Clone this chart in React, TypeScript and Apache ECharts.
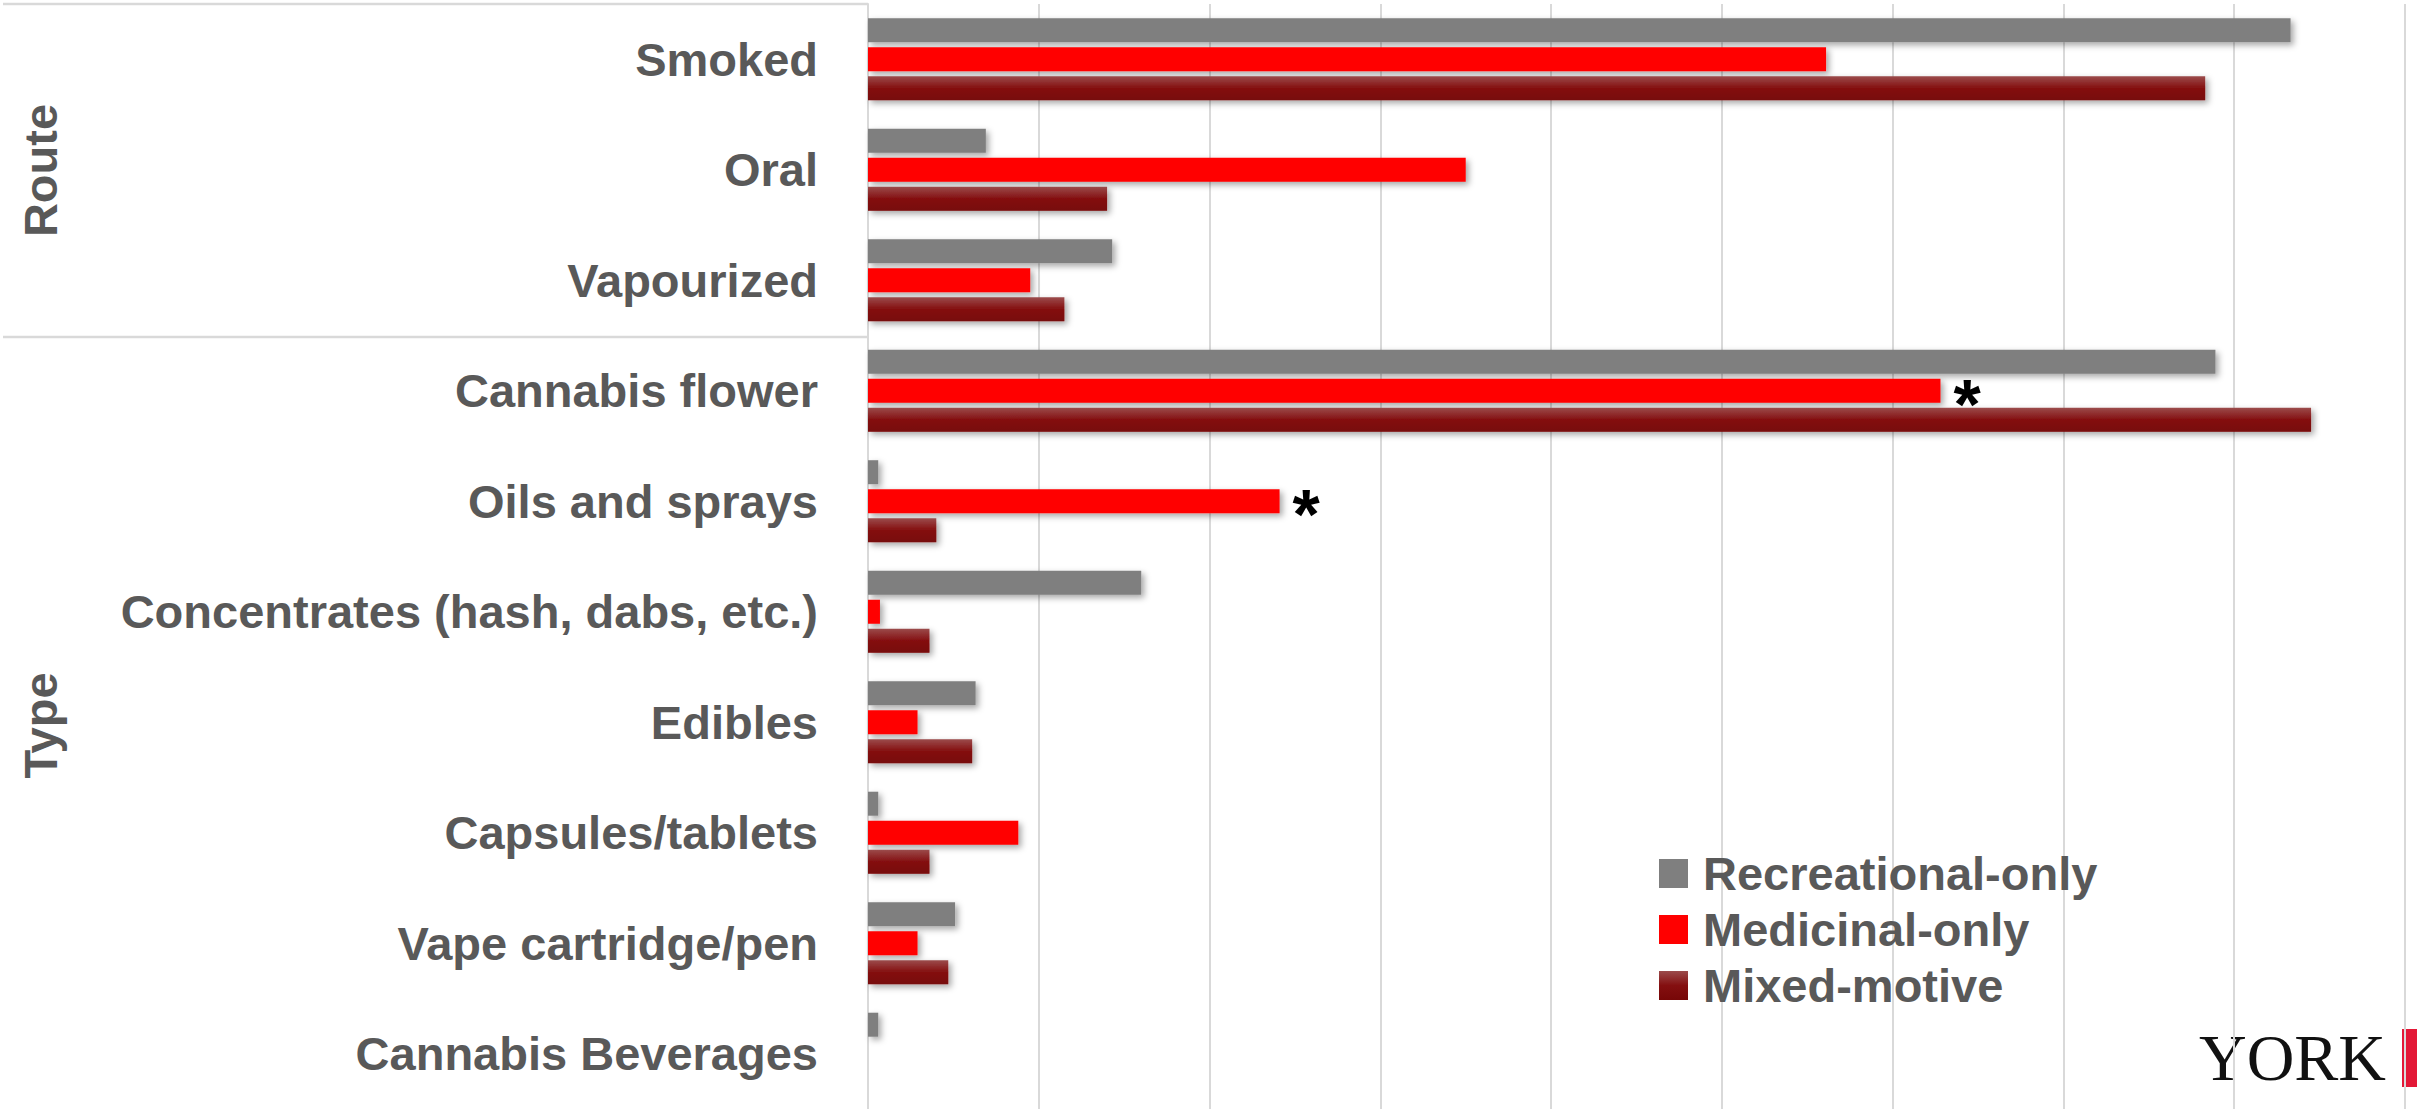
import React, { useEffect, useRef } from 'react';
import * as echarts from 'echarts';

// Cannabis use by route and product type, share of each user group (%)
const categories = [
  'Smoked',
  'Oral',
  'Vapourized',
  'Cannabis flower',
  'Oils and sprays',
  'Concentrates (hash, dabs, etc.)',
  'Edibles',
  'Capsules/tablets',
  'Vape cartridge/pen',
  'Cannabis Beverages',
];

const recreationalOnly = [83.3, 6.9, 14.3, 78.9, 0.6, 16.0, 6.3, 0.6, 5.1, 0.6];
const medicinalOnly = [56.1, 35.0, 9.5, 62.8, 24.1, 0.7, 2.9, 8.8, 2.9, 0];
const mixedMotive = [78.3, 14.0, 11.5, 84.5, 4.0, 3.6, 6.1, 3.6, 4.7, 0];

const seriesNames = ['Recreational-only', 'Medicinal-only', 'Mixed-motive'];

// Medicinal-only values flagged with an asterisk
const starredMedicinal = ['Cannabis flower', 'Oils and sprays'];

// Row groups drawn to the left of the category labels
const rowGroups = [
  { name: 'Route', from: 0, to: 3 },
  { name: 'Type', from: 3, to: 10 },
];

const W = 2417;
const H = 1109;
const GRID = { left: 868, top: 4, width: 1537, height: 1110 };
const BAND = GRID.height / categories.length;

const TEXT_GREY = '#595959';
const LINE_GREY = '#D9D9D9';
const FONT = '"Liberation Sans", Arial, sans-serif';

const barShadow = {
  shadowBlur: 6,
  shadowColor: 'rgba(0,0,0,0.35)',
  shadowOffsetX: 3,
  shadowOffsetY: 3,
};

export default function App() {
  const ref = useRef<HTMLDivElement>(null);

  useEffect(() => {
    if (!ref.current) return;
    const chart = echarts.init(ref.current, undefined, { renderer: 'svg' });

    const mixedGradient = new echarts.graphic.LinearGradient(0, 0, 0, 1, [
      { offset: 0, color: '#9B4B4B' },
      { offset: 0.5, color: '#840F10' },
      { offset: 1, color: '#770707' },
    ]);

    const groupGraphics: any[] = [];
    rowGroups.forEach((g) => {
      const yTop = GRID.top + g.from * BAND;
      const yBottom = GRID.top + g.to * BAND;
      groupGraphics.push({
        type: 'line',
        shape: { x1: 3, y1: yTop, x2: GRID.left, y2: yTop },
        style: { stroke: LINE_GREY, lineWidth: 2.5 },
        silent: true,
      });
      groupGraphics.push({
        type: 'text',
        x: 40,
        y: (yTop + Math.min(yBottom, H + 5)) / 2,
        rotation: Math.PI / 2,
        style: {
          text: g.name,
          align: 'center',
          verticalAlign: 'middle',
          fontSize: 47,
          fontWeight: 'bold',
          fontFamily: FONT,
          fill: TEXT_GREY,
        },
        silent: true,
      });
    });

    const option: any = {
      animation: false,
      backgroundColor: '#ffffff',
      grid: { ...GRID, containLabel: false },
      legend: {
        data: seriesNames,
        orient: 'vertical',
        left: 1654,
        top: 845,
        itemWidth: 29,
        itemHeight: 29,
        itemGap: 9,
        icon: 'rect',
        selectedMode: false,
        textStyle: {
          fontSize: 47,
          fontWeight: 'bold',
          fontFamily: FONT,
          color: TEXT_GREY,
          padding: [0, 0, 0, 10],
        },
        itemStyle: {
          shadowBlur: 0,
          shadowColor: 'rgba(0,0,0,0)',
          shadowOffsetX: 0,
          shadowOffsetY: 0,
        },
      },
      xAxis: {
        type: 'value',
        min: 0,
        max: 90,
        interval: 10,
        axisLabel: { show: false },
        axisLine: { show: false },
        axisTick: { show: false },
        splitLine: { show: true, lineStyle: { color: LINE_GREY, width: 2 } },
      },
      yAxis: {
        type: 'category',
        inverse: true,
        data: categories,
        axisTick: { show: false },
        axisLine: { show: true, lineStyle: { color: LINE_GREY, width: 2 } },
        axisLabel: {
          margin: 50,
          fontSize: 47,
          fontWeight: 'bold',
          fontFamily: FONT,
          color: TEXT_GREY,
        },
      },
      series: [
        {
          name: seriesNames[0],
          type: 'bar',
          data: recreationalOnly,
          barWidth: 24,
          barGap: '21%',
          itemStyle: { color: '#7F7F7F', ...barShadow },
        },
        {
          name: seriesNames[1],
          type: 'bar',
          data: medicinalOnly.map((v, i) =>
            starredMedicinal.includes(categories[i])
              ? { value: v, label: { show: true } }
              : v
          ),
          barWidth: 24,
          barGap: '21%',
          itemStyle: { color: '#FF0000', ...barShadow },
          label: {
            show: false,
            position: 'right',
            distance: 13,
            formatter: '*',
            color: '#000000',
            fontSize: 70,
            fontWeight: 'bold',
            fontFamily: FONT,
            offset: [0, 14],
          },
        },
        {
          name: seriesNames[2],
          type: 'bar',
          data: mixedMotive,
          barWidth: 24,
          barGap: '21%',
          itemStyle: { color: mixedGradient, ...barShadow },
        },
      ],
      graphic: [
        ...groupGraphics,
        {
          type: 'text',
          x: 2199,
          y: 1057,
          style: {
            text: 'YORK',
            align: 'left',
            verticalAlign: 'middle',
            fontSize: 66,
            fontFamily: '"Liberation Serif", "DejaVu Serif", serif',
            fill: '#111111',
          },
          silent: true,
        },
        {
          type: 'rect',
          shape: { x: 2402, y: 1029, width: 15, height: 58 },
          style: { fill: '#E31837' },
          silent: true,
        },
      ],
    };

    chart.setOption(option);
    return () => chart.dispose();
  }, []);

  return (
    <div
      ref={ref}
      style={{ position: 'fixed', left: 0, top: 0, width: W, height: H }}
    />
  );
}
